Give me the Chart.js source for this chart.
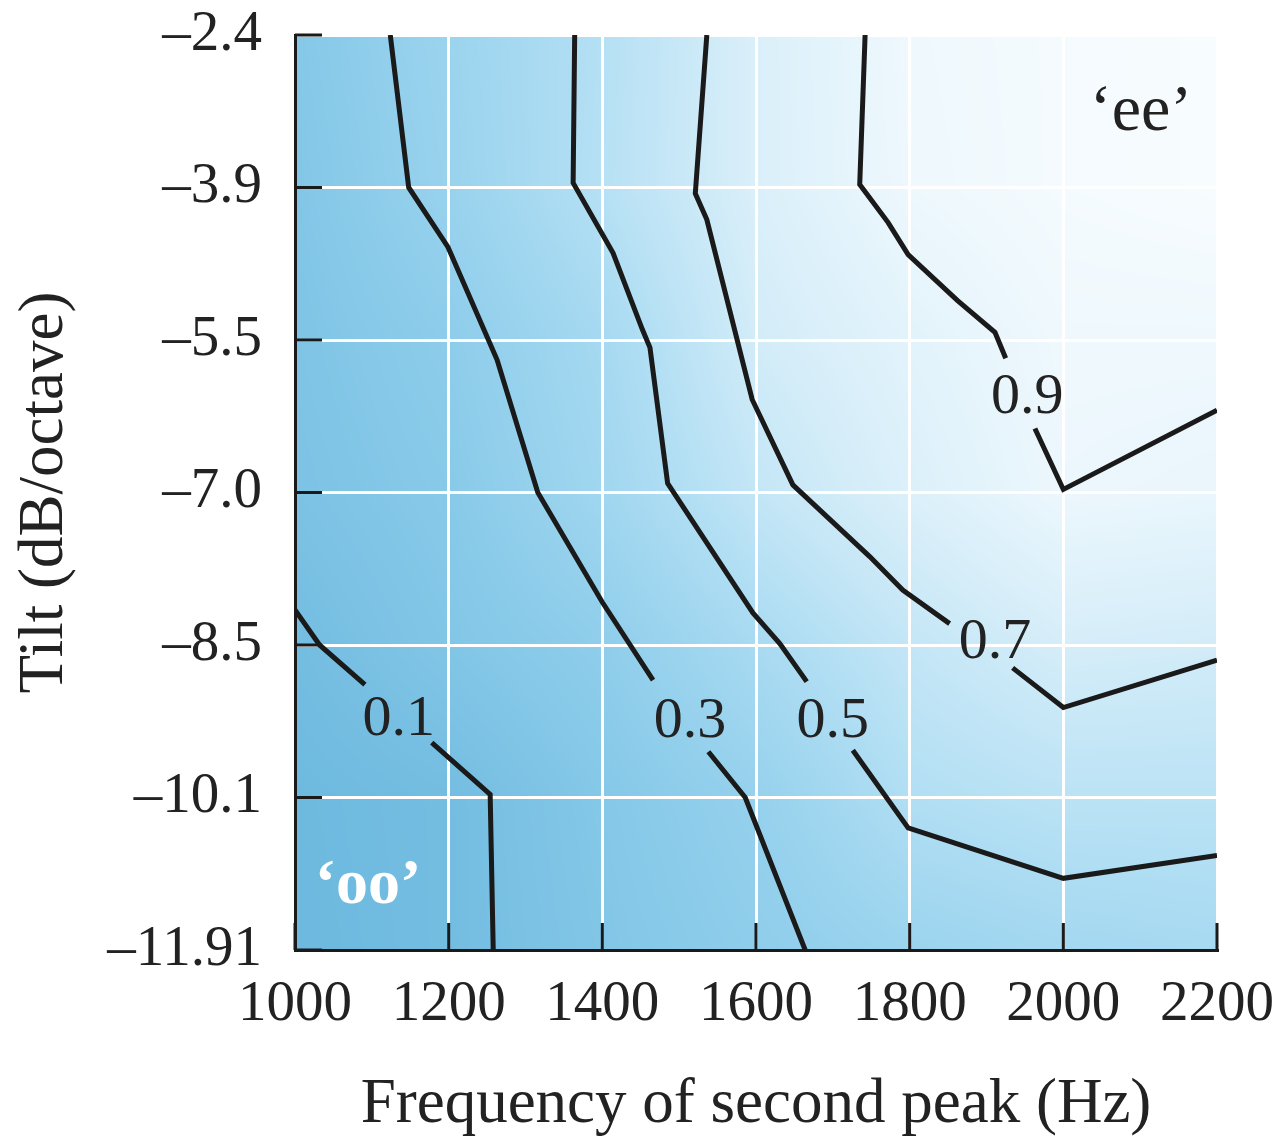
<!DOCTYPE html>
<html>
<head>
<meta charset="utf-8">
<script src="https://cdn.jsdelivr.net/npm/chart.js@4.4.1/dist/chart.umd.min.js"></script>
<style>
  html, body { margin: 0; padding: 0; background: #fff; }
  #wrap { width: 1277px; height: 1137px; }
</style>
</head>
<body>
<div id="wrap"><canvas id="vowelChart"></canvas></div>
<script>
// frequency of the second peak (Hz) and tilt rows (dB/octave), top row first
const freqTicks = [1000, 1200, 1400, 1600, 1800, 2000, 2200];
const tiltLabels = ['–2.4', '–3.9', '–5.5', '–7.0', '–8.5', '–10.1', '–11.91'];

// share of 'ee' responses at each grid node (rows follow tiltLabels, columns freqTicks)
const eeShare = [
  [0.20, 0.36, 0.54, 0.77, 0.92, 0.96, 0.98],
  [0.18, 0.34, 0.55, 0.77, 0.91, 0.96, 0.98],
  [0.16, 0.26, 0.44, 0.72, 0.83, 0.92, 0.92],
  [0.14, 0.22, 0.40, 0.63, 0.78, 0.90, 0.88],
  [0.08, 0.18, 0.27, 0.46, 0.63, 0.74, 0.72],
  [0.04, 0.08, 0.20, 0.32, 0.52, 0.58, 0.58],
  [0.03, 0.08, 0.18, 0.27, 0.36, 0.42, 0.45]
];

// contour lines; y is the tilt row position, null leaves room for the level label
const levels = ['0.1', '0.3', '0.5', '0.7', '0.9'];
const c01x = [1000, 1032, 1091, 1130, 1178, 1254, 1258];
const c01y = [3.77, 4.00, 4.26, null, 4.64, 4.98, 6.00];
const c03x = [1124, 1148, 1199, 1263, 1316, 1400, 1466, 1500, 1538, 1586, 1664];
const c03y = [0.00, 1.00, 1.39, 2.13, 3.00, 3.72, 4.23, null, 4.70, 5.00, 6.00];
const c05x = [1364, 1362, 1414, 1452, 1462, 1485, 1596, 1631, 1666, 1700, 1726, 1798, 2000, 2200];
const c05y = [0.00, 0.97, 1.43, 1.93, 2.05, 2.94, 3.79, 3.99, 4.24, null, 4.69, 5.20, 5.53, 5.38];
const c07x = [1536, 1521, 1536, 1595, 1648, 1748, 1791, 1852, 1900, 1934, 2000, 2200];
const c07y = [0.00, 1.04, 1.21, 2.39, 2.95, 3.42, 3.64, 3.86, null, 4.15, 4.41, 4.10];
const c09x = [1742, 1735, 1772, 1798, 1862, 1911, 1925, 1945, 1963, 2000, 2200];
const c09y = [0.00, 0.98, 1.23, 1.44, 1.74, 1.95, 2.12, null, 2.58, 2.98, 2.46];

// where each level label sits (frequency, baseline row)
const levelLabelX = [1135, 1514, 1700, 1911, 1953];
const levelLabelY = [4.59, 4.60, 4.60, 4.085, 2.48];

const SERIF = '"Liberation Serif", "DejaVu Serif", serif';
Chart.defaults.font.family = SERIF;
Chart.defaults.color = '#222';

function toPoints(xs, ys) {
  return xs.map((v, i) => ({ x: v, y: ys[i] }));
}

const contours = [[c01x, c01y], [c03x, c03y], [c05x, c05y], [c07x, c07y], [c09x, c09y]];

// blue ramp: low 'ee' share is deep blue, high share fades to white
const ramp = [
  [0.00, [104, 182, 221]],
  [0.25, [140, 204, 234]],
  [0.50, [174, 221, 243]],
  [0.75, [215, 238, 249]],
  [1.00, [250, 253, 255]]
];
function shadeColor(v) {
  v = Math.max(0, Math.min(1, v));
  for (let k = 1; k < ramp.length; k++) {
    if (v <= ramp[k][0]) {
      const t = (v - ramp[k - 1][0]) / (ramp[k][0] - ramp[k - 1][0]);
      const a = ramp[k - 1][1], b = ramp[k][1];
      return [a[0] + (b[0] - a[0]) * t, a[1] + (b[1] - a[1]) * t, a[2] + (b[2] - a[2]) * t];
    }
  }
  return ramp[ramp.length - 1][1];
}
function sampleShare(col, row) {
  col = Math.max(0, Math.min(6, col));
  row = Math.max(0, Math.min(6, row));
  const c0 = Math.min(5, Math.floor(col)), r0 = Math.min(5, Math.floor(row));
  const tc = col - c0, tr = row - r0;
  const top = eeShare[r0][c0] * (1 - tc) + eeShare[r0][c0 + 1] * tc;
  const bot = eeShare[r0 + 1][c0] * (1 - tc) + eeShare[r0 + 1][c0 + 1] * tc;
  return top * (1 - tr) + bot * tr;
}

const shadePlugin = {
  id: 'shade',
  beforeDraw(chart) {
    const { ctx, chartArea: a, scales: { x, y } } = chart;
    const w = Math.round(a.right - a.left), h = Math.round(a.bottom - a.top);
    const img = ctx.createImageData(w, h);
    const cols = [];
    for (let i = 0; i < w; i++) {
      cols.push((x.getValueForPixel(a.left + i + 0.5) - freqTicks[0]) / (freqTicks[1] - freqTicks[0]));
    }
    for (let j = 0; j < h; j++) {
      const row = y.getValueForPixel(a.top + j + 0.5);
      for (let i = 0; i < w; i++) {
        const c = shadeColor(sampleShare(cols[i], row));
        const p = (j * w + i) * 4;
        img.data[p] = c[0]; img.data[p + 1] = c[1]; img.data[p + 2] = c[2]; img.data[p + 3] = 255;
      }
    }
    ctx.putImageData(img, Math.round(a.left), Math.round(a.top));
  },
  afterDraw(chart) {
    const { ctx, chartArea: a, scales: { x, y } } = chart;
    ctx.save();
    // short inward tick marks
    ctx.strokeStyle = '#1a1a1a';
    ctx.lineWidth = 3;
    ctx.beginPath();
    freqTicks.forEach(f => {
      const px = x.getPixelForValue(f);
      ctx.moveTo(px, a.bottom);
      ctx.lineTo(px, a.bottom - 27);
    });
    tiltLabels.forEach((_, r) => {
      const py = y.getPixelForValue(r);
      ctx.moveTo(a.left, py);
      ctx.lineTo(a.left + 27, py);
    });
    ctx.stroke();

    // level labels
    ctx.fillStyle = '#222';
    ctx.font = '58px ' + SERIF;
    ctx.textAlign = 'center';
    ctx.textBaseline = 'alphabetic';
    levels.forEach((lv, k) => {
      ctx.fillText(lv, x.getPixelForValue(levelLabelX[k]), y.getPixelForValue(levelLabelY[k]));
    });

    // vowel region names
    ctx.font = '66px ' + SERIF;
    ctx.fillText('\u2018ee\u2019', x.getPixelForValue(2101), y.getPixelForValue(0.62));
    ctx.fillStyle = '#fff';
    ctx.font = 'bold 64px ' + SERIF;
    ctx.fillText('\u2018oo\u2019', x.getPixelForValue(1095), y.getPixelForValue(5.69));
    ctx.restore();
  }
};

// keep the plot box fixed: no extra room for overhanging tick labels
function pinScale(s, size) {
  if (s.isHorizontal()) s.height = size; else s.width = size;
  s.paddingTop = 0; s.paddingBottom = 0; s.paddingLeft = 0; s.paddingRight = 0;
}

new Chart(document.getElementById('vowelChart'), {
  type: 'line',
  data: {
    datasets: contours.map((c, k) => ({
      label: levels[k],
      data: toPoints(c[0], c[1]),
      borderColor: '#1a1a1a',
      borderWidth: 5,
      pointRadius: 0,
      tension: 0,
      spanGaps: false,
      fill: false
    }))
  },
  options: {
    responsive: true,
    maintainAspectRatio: false,
    animation: false,
    layout: { padding: { top: 35, right: 60, left: 0, bottom: 0 } },
    plugins: {
      legend: { display: false },
      tooltip: { enabled: false }
    },
    scales: {
      x: {
        type: 'linear',
        min: 1000,
        max: 2200,
        afterBuildTicks: s => { s.ticks = freqTicks.map(v => ({ value: v })); },
        ticks: {
          padding: 21,
          color: '#222',
          font: { size: 57 },
          maxRotation: 0,
          callback: v => String(v)
        },
        grid: { color: '#fff', lineWidth: 3, drawTicks: false },
        border: { color: '#1a1a1a', width: 3 },
        title: {
          display: true,
          text: 'Frequency of second peak (Hz)',
          color: '#222',
          font: { size: 63, lineHeight: 1.0 },
          padding: { top: 0, bottom: 0 }
        },
        afterFit: s => pinScale(s, 187)
      },
      y: {
        type: 'linear',
        min: 0,
        max: 6,
        reverse: true,
        afterBuildTicks: s => { s.ticks = tiltLabels.map((_, i) => ({ value: i })); },
        ticks: {
          padding: 33,
          color: '#222',
          font: { size: 57 },
          callback: v => tiltLabels[v]
        },
        grid: { color: '#fff', lineWidth: 3, drawTicks: false },
        border: { color: '#1a1a1a', width: 3 },
        title: {
          display: true,
          text: 'Tilt (dB/octave)',
          color: '#222',
          font: { size: 63 },
          padding: { top: 8, bottom: 0 }
        },
        afterFit: s => pinScale(s, 295)
      }
    }
  },
  plugins: [shadePlugin]
});
</script>
</body>
</html>
